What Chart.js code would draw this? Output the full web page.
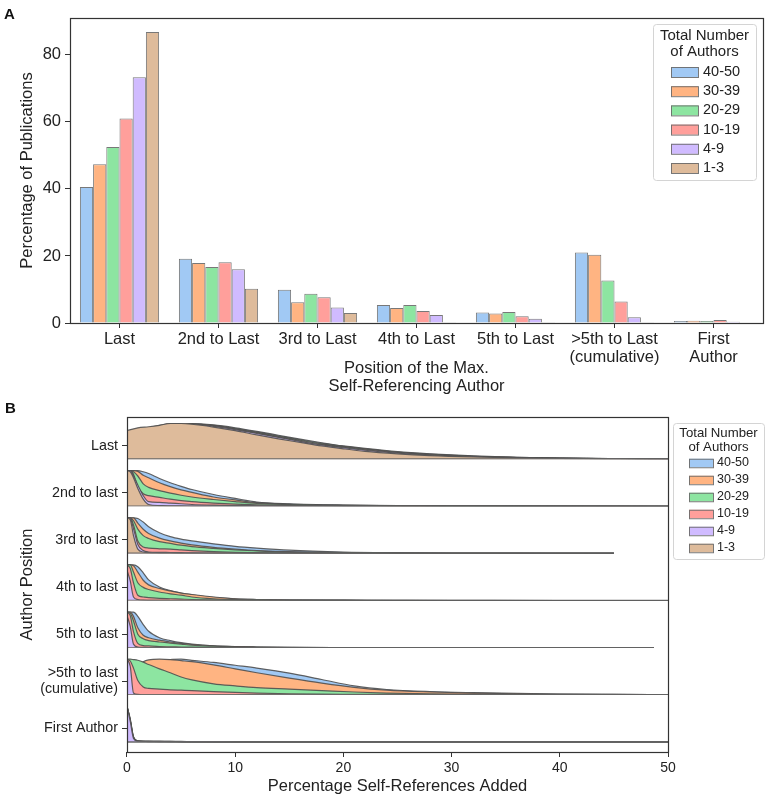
<!DOCTYPE html>
<html><head><meta charset="utf-8">
<script src="https://cdn.jsdelivr.net/npm/chart.js@4.4.1/dist/chart.umd.min.js"></script>
<style>
html,body{margin:0;padding:0;background:#fff;}
#wrapA{position:absolute;left:0;top:0;width:768px;height:396px;}
#wrapB{position:absolute;left:0;top:396px;width:768px;height:402px;}
</style></head><body>
<div id="wrapA"><canvas id="chartA"></canvas></div>
<div id="wrapB"><canvas id="chartB"></canvas></div>
<script>
// ---------------- DATA ----------------
const groups = ['40-50', '30-39', '20-29', '10-19', '4-9', '1-3'];
const positions = ['Last', '2nd to Last', '3rd to Last', '4th to Last', '5th to Last', ['>5th to Last', '(cumulative)'], ['First', 'Author']];
const yTicksA = [0, 20, 40, 60, 80];

// Panel A: percentage of publications per position
const pct_40_50 = [40.6, 19.2, 9.9, 5.4, 3.1, 21.0, 0.6];
const pct_30_39 = [47.4, 17.9, 6.2, 4.5, 2.8, 20.4, 0.7];
const pct_20_29 = [52.5, 16.7, 8.7, 5.4, 3.3, 12.7, 0.6];
const pct_10_19 = [61.0, 18.1, 7.7, 3.6, 2.0, 6.4, 0.9];
const pct_4_9   = [73.3, 16.0, 4.6, 2.4, 1.3, 1.7, 0.4];
const pct_1_3   = [86.8, 10.2, 3.0, 0.1, 0.1, 0.1, 0.0];

// Panel B: row names and x ticks
const rowNames = ['Last', '2nd to last', '3rd to last', '4th to last', '5th to last', ['>5th to last', '(cumulative)'], 'First Author'];
const xTicksB = [0, 10, 20, 30, 40, 50];

// Panel B: x grids per row (percentage self-references added)
const xLast  = [0, 1, 2, 3, 4, 5, 6, 8, 10, 12, 14, 16, 18, 20, 22, 25, 28, 32, 36, 40, 45, 50];
const x2nd   = [0, 0.3, 0.6, 1, 1.5, 2, 3, 4, 5, 6, 8, 10, 12, 15, 20, 25, 30, 40, 50];
const x3rd   = [0, 0.3, 0.6, 1, 1.5, 2, 3, 4, 5, 6, 8, 10, 12, 15, 20, 25, 30, 40, 45];
const x4th   = [0, 0.3, 0.6, 1, 1.5, 2, 3, 4, 5, 6, 8, 10, 12, 15, 20, 25, 30, 40, 50];
const x5th   = [0, 0.3, 0.6, 1, 1.5, 2, 3, 4, 5, 6, 8, 10, 12, 15, 20, 25, 30, 40, 48.7];
const xGt5   = [0, 0.3, 0.6, 1, 1.5, 2, 3, 4, 5, 6, 8, 10, 12, 15, 18, 21, 24, 28, 32, 36, 40, 45, 50];
const xFirst = [0, 0.3, 0.6, 1, 1.5, 2, 3, 4, 5, 6, 8, 10, 12, 15, 20, 25, 30, 40, 50];

// Panel B: scaled densities per row, in group order 40-50, 30-39, 20-29, 10-19, 4-9, 1-3
const densLast = [
  [0.5, 0.6, 0.72, 0.84, 0.94, 0.99, 1.0, 0.96, 0.88, 0.78, 0.67, 0.56, 0.46, 0.37, 0.3, 0.21, 0.15, 0.09, 0.05, 0.03, 0.015, 0.005],
  [0.55, 0.65, 0.76, 0.87, 0.96, 1.0, 0.99, 0.95, 0.86, 0.76, 0.65, 0.54, 0.44, 0.36, 0.29, 0.2, 0.14, 0.08, 0.05, 0.03, 0.015, 0.005],
  [0.6, 0.7, 0.8, 0.9, 0.98, 1.0, 0.99, 0.94, 0.85, 0.75, 0.64, 0.53, 0.43, 0.35, 0.28, 0.19, 0.13, 0.08, 0.045, 0.025, 0.012, 0.004],
  [0.65, 0.75, 0.84, 0.93, 0.99, 1.0, 0.98, 0.93, 0.84, 0.73, 0.62, 0.51, 0.41, 0.33, 0.26, 0.18, 0.12, 0.07, 0.04, 0.022, 0.01, 0.003],
  [0.7, 0.8, 0.88, 0.95, 1.0, 1.0, 0.97, 0.92, 0.83, 0.72, 0.61, 0.5, 0.4, 0.32, 0.25, 0.17, 0.11, 0.065, 0.037, 0.02, 0.01, 0.003],
  [0.8, 0.88, 0.91, 0.95, 1.0, 1.0, 0.98, 0.9, 0.8, 0.68, 0.57, 0.47, 0.37, 0.29, 0.22, 0.15, 0.1, 0.06, 0.035, 0.02, 0.01, 0.002]
];
const dens2nd = [
  [1.0, 1.0, 1.0, 1.0, 0.97, 0.92, 0.78, 0.66, 0.56, 0.47, 0.33, 0.22, 0.12, 0.07, 0.035, 0.02, 0.015, 0.01, 0],
  [1.0, 1.0, 1.0, 0.98, 0.87, 0.8, 0.66, 0.55, 0.46, 0.39, 0.26, 0.18, 0.1, 0.06, 0.03, 0.015, 0.01, 0.005, 0],
  [1.0, 1.0, 0.97, 0.85, 0.63, 0.53, 0.44, 0.37, 0.31, 0.26, 0.19, 0.13, 0.08, 0.05, 0.02, 0.01, 0.005, 0.002, 0],
  [1.0, 1.0, 0.9, 0.55, 0.35, 0.3, 0.25, 0.2, 0.16, 0.13, 0.09, 0.06, 0.04, 0.025, 0.01, 0.005, 0.003, 0.001, 0],
  [1.0, 1.0, 0.85, 0.6, 0.3, 0.13, 0.11, 0.09, 0.07, 0.05, 0.03, 0.02, 0.015, 0.01, 0.005, 0.003, 0.002, 0.001, 0],
  [1.0, 0.97, 0.8, 0.5, 0.2, 0.05, 0.02, 0.01, 0.01, 0.005, 0.003, 0.002, 0.001, 0, 0, 0, 0, 0, 0]
];
const dens3rd = [
  [1.0, 1.0, 1.0, 0.98, 0.88, 0.75, 0.58, 0.47, 0.4, 0.35, 0.27, 0.2, 0.15, 0.09, 0.04, 0.02, 0.01, 0.005, 0],
  [1.0, 1.0, 1.0, 0.85, 0.68, 0.56, 0.43, 0.35, 0.29, 0.24, 0.17, 0.12, 0.08, 0.05, 0.02, 0.01, 0.005, 0.002, 0],
  [1.0, 1.0, 0.92, 0.68, 0.5, 0.42, 0.33, 0.28, 0.23, 0.19, 0.14, 0.1, 0.07, 0.03, 0.015, 0.01, 0.005, 0.002, 0],
  [1.0, 1.0, 0.8, 0.35, 0.18, 0.15, 0.13, 0.12, 0.1, 0.08, 0.05, 0.03, 0.02, 0.01, 0.005, 0.002, 0.001, 0, 0],
  [1.0, 0.98, 0.7, 0.25, 0.08, 0.04, 0.03, 0.025, 0.02, 0.015, 0.01, 0.005, 0.003, 0.002, 0.001, 0, 0, 0, 0],
  [1.0, 0.95, 0.5, 0.12, 0.04, 0.02, 0.01, 0.005, 0.003, 0.002, 0.001, 0, 0, 0, 0, 0, 0, 0, 0]
];
const dens4th = [
  [1.0, 1.0, 1.0, 0.95, 0.78, 0.58, 0.38, 0.28, 0.21, 0.16, 0.09, 0.05, 0.03, 0.015, 0.01, 0.005, 0.003, 0.001, 0],
  [1.0, 1.0, 0.98, 0.8, 0.57, 0.44, 0.34, 0.27, 0.21, 0.17, 0.1, 0.05, 0.03, 0.015, 0.01, 0.005, 0.002, 0.001, 0],
  [1.0, 1.0, 0.8, 0.5, 0.37, 0.31, 0.24, 0.19, 0.15, 0.1, 0.05, 0.03, 0.02, 0.01, 0.005, 0.002, 0.001, 0, 0],
  [1.0, 0.9, 0.5, 0.15, 0.1, 0.08, 0.06, 0.05, 0.04, 0.03, 0.02, 0.01, 0.005, 0.003, 0.001, 0, 0, 0, 0],
  [0.85, 0.55, 0.1, 0.03, 0.01, 0.005, 0.003, 0.002, 0.001, 0, 0, 0, 0, 0, 0, 0, 0, 0, 0]
];
const dens5th = [
  [1.0, 1.0, 1.0, 0.88, 0.65, 0.46, 0.28, 0.2, 0.14, 0.1, 0.05, 0.03, 0.02, 0.01, 0.005, 0.003, 0.002, 0.001, 0],
  [1.0, 1.0, 0.88, 0.56, 0.35, 0.28, 0.21, 0.16, 0.12, 0.09, 0.05, 0.03, 0.02, 0.01, 0.005, 0.003, 0.001, 0, 0],
  [1.0, 0.97, 0.75, 0.38, 0.25, 0.2, 0.16, 0.13, 0.1, 0.07, 0.04, 0.02, 0.01, 0.005, 0.002, 0.001, 0, 0, 0],
  [1.0, 0.9, 0.45, 0.12, 0.06, 0.05, 0.03, 0.025, 0.02, 0.015, 0.01, 0.005, 0.002, 0.001, 0, 0, 0, 0, 0],
  [0.9, 0.6, 0.1, 0.02, 0.01, 0.005, 0.003, 0.002, 0.001, 0, 0, 0, 0, 0, 0, 0, 0, 0, 0]
];
const densGt5 = [
  [0.5, 0.55, 0.6, 0.68, 0.76, 0.83, 0.93, 0.99, 1.0, 0.97, 0.91, 0.83, 0.75, 0.61, 0.43, 0.25, 0.15, 0.09, 0.06, 0.04, 0.02, 0.01, 0.005],
  [0.6, 0.66, 0.72, 0.82, 0.93, 0.98, 1.0, 0.99, 0.96, 0.93, 0.84, 0.73, 0.62, 0.47, 0.33, 0.21, 0.13, 0.08, 0.05, 0.03, 0.02, 0.01, 0.005],
  [1.0, 1.0, 0.99, 0.97, 0.92, 0.85, 0.73, 0.62, 0.5, 0.42, 0.31, 0.25, 0.2, 0.16, 0.12, 0.08, 0.05, 0.03, 0.02, 0.01, 0.005, 0.002, 0],
  [1.0, 0.95, 0.75, 0.4, 0.22, 0.18, 0.16, 0.14, 0.13, 0.12, 0.09, 0.07, 0.05, 0.03, 0.02, 0.015, 0.01, 0.005, 0.003, 0.002, 0.001, 0, 0],
  [1.0, 0.8, 0.05, 0.01, 0, 0, 0, 0, 0, 0, 0, 0, 0, 0, 0, 0, 0, 0, 0, 0, 0, 0, 0]
];
const densFirst = [
  [1.0, 0.65, 0.15, 0.03, 0.02, 0.02, 0.02, 0.015, 0.015, 0.01, 0.01, 0.005, 0.005, 0.003, 0.002, 0.001, 0.001, 0, 0],
  [1.0, 0.62, 0.13, 0.03, 0.02, 0.02, 0.015, 0.015, 0.01, 0.01, 0.005, 0.005, 0.003, 0.002, 0.001, 0.001, 0, 0, 0],
  [1.0, 0.6, 0.12, 0.025, 0.02, 0.015, 0.015, 0.01, 0.01, 0.005, 0.005, 0.003, 0.002, 0.001, 0.001, 0, 0, 0, 0],
  [1.0, 0.6, 0.12, 0.02, 0.015, 0.015, 0.01, 0.01, 0.005, 0.005, 0.003, 0.002, 0.001, 0.001, 0, 0, 0, 0, 0],
  [1.0, 0.58, 0.1, 0.02, 0.015, 0.01, 0.01, 0.008, 0.006, 0.004, 0.003, 0.002, 0.001, 0.001, 0, 0, 0, 0, 0]
];

// ---------------- STYLE ----------------
const FONT = '"Liberation Sans", Arial, Helvetica, sans-serif';
const TXT = '#222222';
const AXC = '#333333';
const colors = ['#a1c9f4', '#ffb482', '#8de5a1', '#ff9f9b', '#d0bbff', '#debb9b'];
const barEdge = 'rgba(105,105,105,0.9)';
const areaEdge = 'rgba(80,80,80,0.9)';
Chart.defaults.font.family = FONT;
Chart.defaults.color = TXT;

const barSeries = [pct_40_50, pct_30_39, pct_20_29, pct_10_19, pct_4_9, pct_1_3];
const ridgeX = [xLast, x2nd, x3rd, x4th, x5th, xGt5, xFirst];
const ridgeY = [densLast, dens2nd, dens3rd, dens4th, dens5th, densGt5, densFirst];

// ---------------- PLUGINS ----------------
const framePlugin = {
  id: 'frame',
  afterDraw(chart, args, o) {
    const {ctx, chartArea: ca} = chart;
    ctx.save();
    ctx.strokeStyle = AXC; ctx.lineWidth = 1.2;
    ctx.strokeRect(Math.round(ca.left) + 0.5, Math.round(ca.top) + 0.5,
                   Math.round(ca.right - ca.left), Math.round(ca.bottom - ca.top));
    ctx.fillStyle = '#111';
    ctx.font = 'bold ' + o.labelSize + 'px ' + FONT;
    ctx.textAlign = 'left'; ctx.textBaseline = 'alphabetic';
    ctx.fillText(o.label, o.labelX, o.labelY);
    ctx.restore();
  }
};

function roundRect(ctx, x, y, w, h, r) {
  ctx.beginPath();
  ctx.moveTo(x + r, y);
  ctx.lineTo(x + w - r, y); ctx.quadraticCurveTo(x + w, y, x + w, y + r);
  ctx.lineTo(x + w, y + h - r); ctx.quadraticCurveTo(x + w, y + h, x + w - r, y + h);
  ctx.lineTo(x + r, y + h); ctx.quadraticCurveTo(x, y + h, x, y + h - r);
  ctx.lineTo(x, y + r); ctx.quadraticCurveTo(x, y, x + r, y);
  ctx.closePath();
}

const boxLegend = {
  id: 'boxLegend',
  afterDraw(chart, args, o) {
    const {ctx, chartArea: ca} = chart;
    const left = ca.right + o.dx, top = ca.top + o.dy;
    ctx.save();
    roundRect(ctx, left + 0.5, top + 0.5, o.w, o.h, 3);
    ctx.fillStyle = 'rgba(255,255,255,0.92)'; ctx.fill();
    ctx.strokeStyle = '#d4d4d4'; ctx.lineWidth = 1; ctx.stroke();
    ctx.fillStyle = TXT;
    ctx.font = o.titleSize + 'px ' + FONT;
    ctx.textAlign = 'center'; ctx.textBaseline = 'middle';
    o.title.split('\n').forEach((t, i) => ctx.fillText(t, left + o.w / 2, top + o.titleY0 + i * o.titleStep));
    ctx.font = o.labelSize + 'px ' + FONT;
    groups.forEach((g, i) => {
      const y = top + o.itemY0 + i * o.itemStep;
      ctx.fillStyle = colors[i];
      ctx.fillRect(left + o.swX, y - o.swH / 2, o.swW, o.swH);
      ctx.strokeStyle = barEdge; ctx.lineWidth = 1;
      ctx.strokeRect(left + o.swX + 0.5, y - o.swH / 2 + 0.5, o.swW, o.swH);
      ctx.fillStyle = TXT; ctx.textAlign = 'left';
      ctx.fillText(g, left + o.txX, y);
    });
    ctx.restore();
  }
};

// ---------------- CHART A ----------------
new Chart(document.getElementById('chartA'), {
  type: 'bar',
  data: {
    labels: positions,
    datasets: groups.map((g, i) => ({
      label: g, data: barSeries[i],
      backgroundColor: colors[i], borderColor: barEdge, borderWidth: 1,
      categoryPercentage: 0.8, barPercentage: 1.0
    }))
  },
  options: {
    responsive: true, maintainAspectRatio: false, animation: false,
    layout: {padding: {top: 18, right: 5, left: 0, bottom: 0}},
    plugins: {
      legend: {display: false}, tooltip: {enabled: false},
      frame: {label: 'A', labelSize: 15, labelX: 4, labelY: 19},
      boxLegend: {dx: -110, dy: 6, w: 103, h: 156, title: 'Total Number\nof Authors',
                  titleSize: 15, titleY0: 12, titleStep: 16, labelSize: 14.5,
                  itemY0: 48, itemStep: 19.2, swX: 18, swW: 27, swH: 10, txX: 50}
    },
    scales: {
      x: {
        offset: true,
        grid: {offset: false, drawOnChartArea: false, drawTicks: true, tickLength: 5, color: AXC},
        border: {display: false},
        ticks: {font: {size: 16.5, lineHeight: 1.06}, color: TXT, padding: 3, maxRotation: 0, autoSkip: false},
        title: {display: true, text: ['Position of the Max.', 'Self-Referencing Author'],
                font: {size: 16.5, lineHeight: 1.1}, color: TXT, padding: {top: 0, bottom: 0}},
        afterFit: s => { s.height = 73; }
      },
      y: {
        min: 0, max: 91,
        afterBuildTicks: ax => { ax.ticks = yTicksA.map(v => ({value: v})); },
        ticks: {font: {size: 16.5}, color: TXT, padding: 4},
        grid: {drawOnChartArea: false, drawTicks: true, tickLength: 5, color: AXC},
        border: {display: false},
        title: {display: true, text: 'Percentage of Publications',
                font: {size: 16.5, lineHeight: 1.1}, color: TXT, padding: {top: 18, bottom: 0}},
        afterFit: s => { s.width = 70; }
      }
    }
  },
  plugins: [framePlugin, boxLegend]
});

// ---------------- CHART B ----------------
const datasetsB = [];
ridgeX.forEach((xs, r) => {
  ridgeY[r].forEach((ys, g) => {
    datasetsB.push({
      label: groups[g],
      data: xs.map((x, k) => ({x: x, y: ys[k]})),
      yAxisID: 'r' + r,
      backgroundColor: colors[g], borderColor: areaEdge, borderWidth: 1.2,
      fill: 'origin', pointRadius: 0, tension: 0.4, cubicInterpolationMode: 'monotone',
      order: 5 - g
    });
  });
  datasetsB.push({
    label: 'baseline',
    data: [{x: xs[0], y: 0}, {x: xs[xs.length - 1], y: 0}],
    yAxisID: 'r' + r,
    borderColor: 'rgba(105,105,105,1)', borderWidth: 1.6, fill: false, pointRadius: 0,
    order: -1
  });
});

const rowHeights = [42, 47, 47, 47, 47, 47, 57];   // layout (px per row)
const unitPx = 35.5;                                // pixel height of a density of 1
const belowBase = [0, 0, 0, 0, 0, 0, 10];           // px below baseline in row
const scalesB = {
  x: {
    type: 'linear', min: 0, max: 50,
    afterBuildTicks: ax => { ax.ticks = xTicksB.map(v => ({value: v})); },
    ticks: {font: {size: 14}, color: TXT, padding: 3},
    grid: {drawOnChartArea: false, drawTicks: true, tickLength: 5, color: AXC},
    border: {display: false},
    title: {display: true, text: 'Percentage Self-References Added',
            font: {size: 16.5, lineHeight: 1.1}, color: TXT, padding: {top: 0, bottom: 2}},
    afterFit: s => { s.height = 46; }
  },
  yTitle: {
    type: 'linear', position: 'left', weight: 100,
    grid: {display: false}, border: {display: false}, ticks: {display: false},
    title: {display: true, text: 'Author Position', font: {size: 16.5, lineHeight: 1.1},
            color: TXT, padding: {top: 18, bottom: 0}},
    afterFit: s => { s.width = 32; }
  }
};
rowNames.forEach((name, r) => {
  const mn = -belowBase[r] / unitPx;
  const mx = (rowHeights[r] - belowBase[r]) / unitPx;
  scalesB['r' + r] = {
    type: 'linear', position: 'left', stack: 'ridge', stackWeight: rowHeights[r], weight: 10 - r,
    min: mn, max: mx,
    afterBuildTicks: ax => { ax.ticks = [{value: 0.38}]; },
    ticks: {callback: () => name, font: {size: 14.3, lineHeight: 1.1}, color: TXT, padding: 4, autoSkip: false},
    grid: {drawOnChartArea: false, drawTicks: true, tickLength: 5, color: AXC},
    border: {display: false},
    afterFit: s => { s.width = 95; }
  };
});

new Chart(document.getElementById('chartB'), {
  type: 'line',
  data: {datasets: datasetsB},
  options: {
    responsive: true, maintainAspectRatio: false, animation: false,
    layout: {padding: {top: 21, right: 100, left: 0, bottom: 0}},
    plugins: {
      legend: {display: false}, tooltip: {enabled: false},
      frame: {label: 'B', labelSize: 15, labelX: 5, labelY: 16.5},
      boxLegend: {dx: 5, dy: 6, w: 91, h: 136, title: 'Total Number\nof Authors',
                  titleSize: 13.2, titleY0: 10, titleStep: 14, labelSize: 12.5,
                  itemY0: 40, itemStep: 17, swX: 16, swW: 24, swH: 8.5, txX: 44}
    },
    scales: scalesB
  },
  plugins: [framePlugin, boxLegend]
});
</script></body></html>
